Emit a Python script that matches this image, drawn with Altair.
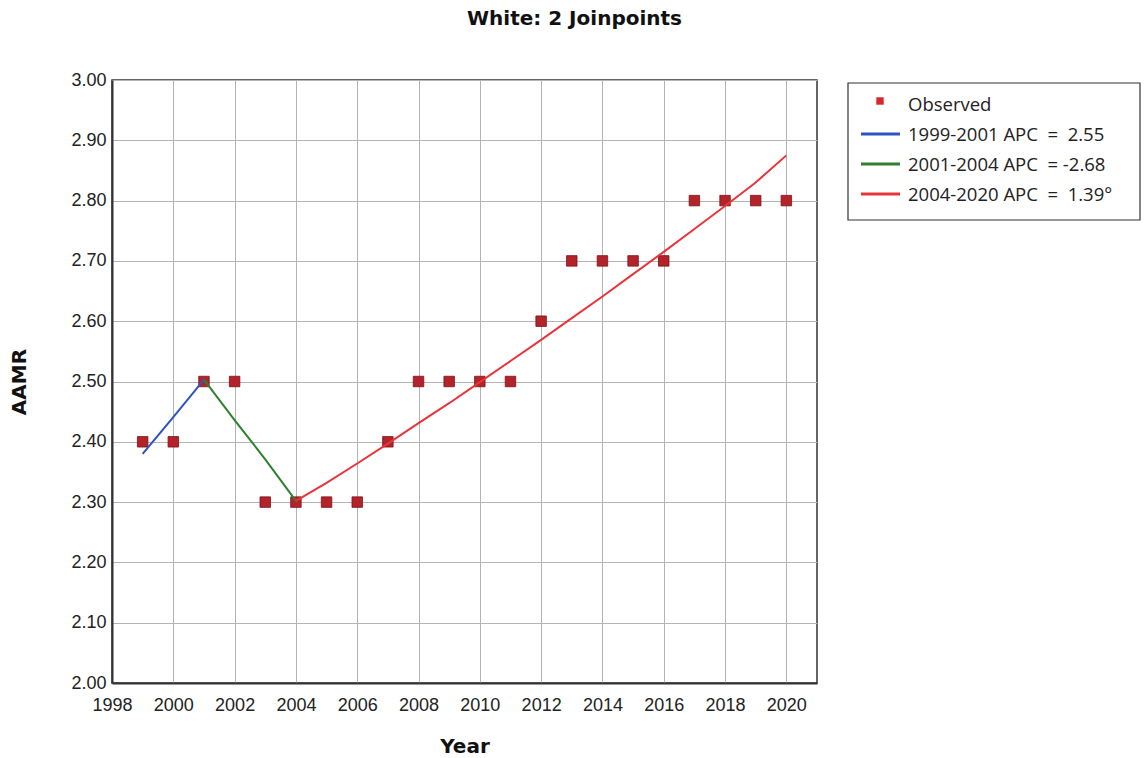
import altair as alt
import pandas as pd

# Observed age-adjusted mortality rates
years = list(range(1999, 2021))
observed = [2.40, 2.40, 2.50, 2.50, 2.30, 2.30, 2.30, 2.30, 2.40, 2.50, 2.50,
            2.50, 2.50, 2.60, 2.70, 2.70, 2.70, 2.70, 2.80, 2.80, 2.80, 2.80]

# Joinpoint fitted segments
seg1_years = [1999, 2000, 2001]
seg1_fit = [2.380, 2.441, 2.503]
seg2_years = [2001, 2002, 2003, 2004]
seg2_fit = [2.503, 2.436, 2.371, 2.302]
seg3_years = list(range(2004, 2021))
seg3_fit = [2.302, 2.332, 2.364, 2.397, 2.431, 2.464, 2.499, 2.534, 2.569,
            2.605, 2.641, 2.678, 2.715, 2.753, 2.791, 2.830, 2.875]

NB = "\u00a0"
seg_labels = [
    f"1999-2001 APC{NB}{NB}={NB}{NB}2.55",
    f"2001-2004 APC{NB}{NB}={NB}-2.68",
    f"2004-2020 APC{NB}{NB}={NB}{NB}1.39\u00b0",
]
seg_colors = ["#2f52c4", "#2f8030", "#e8343b"]
obs_color = "#b3232a"

x_ticks = list(range(1998, 2021, 2))
y_ticks = [2.0, 2.1, 2.2, 2.3, 2.4, 2.5, 2.6, 2.7, 2.8, 2.9, 3.0]

W, H = 705, 603

obs_df = pd.DataFrame({"year": years, "aamr": observed})
fit_df = pd.concat([
    pd.DataFrame({"year": seg1_years, "fit": seg1_fit, "seg": seg_labels[0]}),
    pd.DataFrame({"year": seg2_years, "fit": seg2_fit, "seg": seg_labels[1]}),
    pd.DataFrame({"year": seg3_years, "fit": seg3_fit, "seg": seg_labels[2]}),
])

x_enc = alt.X("year:Q",
              scale=alt.Scale(domain=[1998, 2021], nice=False),
              axis=alt.Axis(values=x_ticks, format="d", title="Year",
                            titlePadding=22, labelPadding=13,
                            labelFlush=False, labelOverlap=False))
y_axis = alt.Axis(values=y_ticks, format=".2f", title="AAMR",
                  titleX=-83, titleY=H / 2, labelPadding=6)

points = alt.Chart(obs_df).mark_square(
    size=110, color=obs_color, stroke="#7e1116", strokeWidth=0.8, opacity=1
).encode(
    x=x_enc,
    y=alt.Y("aamr:Q", scale=alt.Scale(domain=[2.0, 3.0], nice=False), axis=y_axis),
)

lines = alt.Chart(fit_df).mark_line(strokeWidth=2).encode(
    x=alt.X("year:Q"),
    y=alt.Y("fit:Q"),
    color=alt.Color("seg:N", scale=alt.Scale(domain=seg_labels, range=seg_colors), legend=None),
    detail="seg:N",
)

# Legend box to the right of the plot
one = alt.Data(values=[{}])
LX, LY = 736, 3
box = alt.Chart(one).mark_rect(fill="white", stroke="#333333", strokeWidth=1.2).encode(
    x=alt.value(LX), x2=alt.value(LX + 292), y=alt.value(LY), y2=alt.value(LY + 137)
)
legend_layers = [box]
row_y = [LY + 21 + 30 * i for i in range(4)]
legend_layers.append(
    alt.Chart(one).mark_square(size=55, color="#d8262e", opacity=1).encode(
        x=alt.value(LX + 32), y=alt.value(row_y[0] - 3)
    )
)
legend_layers.append(
    alt.Chart(one).mark_text(text="Observed", align="left", baseline="middle",
                             font="Open Sans", fontSize=18.5, color="#222222").encode(
        x=alt.value(LX + 60), y=alt.value(row_y[0] + 1)
    )
)
for i, (lab, col) in enumerate(zip(seg_labels, seg_colors)):
    yy = row_y[i + 1]
    legend_layers.append(
        alt.Chart(one).mark_rule(color=col, strokeWidth=3).encode(
            x=alt.value(LX + 13), x2=alt.value(LX + 52), y=alt.value(yy)
        )
    )
    legend_layers.append(
        alt.Chart(one).mark_text(text=lab, align="left", baseline="middle",
                                 font="Open Sans", fontSize=18.5, color="#222222").encode(
            x=alt.value(LX + 60), y=alt.value(yy + 1)
        )
    )

chart = alt.layer(points, lines, *legend_layers).properties(
    width=W, height=H,
    title=alt.TitleParams("White: 2 Joinpoints", font="DejaVu Sans", fontSize=20,
                          fontWeight="bold", color="#111111", anchor="middle",
                          dx=110, offset=42),
    padding={"left": 112, "top": 80, "right": 328, "bottom": 75},
    autosize=alt.AutoSizeParams(type="none"),
    background="white",
).configure_view(
    stroke="#333333", strokeWidth=1.5
).configure_axis(
    grid=True, gridColor="#b4b4b4", gridWidth=1, ticks=False,
    domainColor="#333333", domainWidth=2,
    labelFont="Liberation Sans", labelFontSize=18, labelColor="#222222",
    titleFont="DejaVu Sans", titleFontSize=20, titleFontWeight="bold", titleColor="#111111",
)

chart.save("out.html", embed_options={"renderer": "svg", "actions": False})
